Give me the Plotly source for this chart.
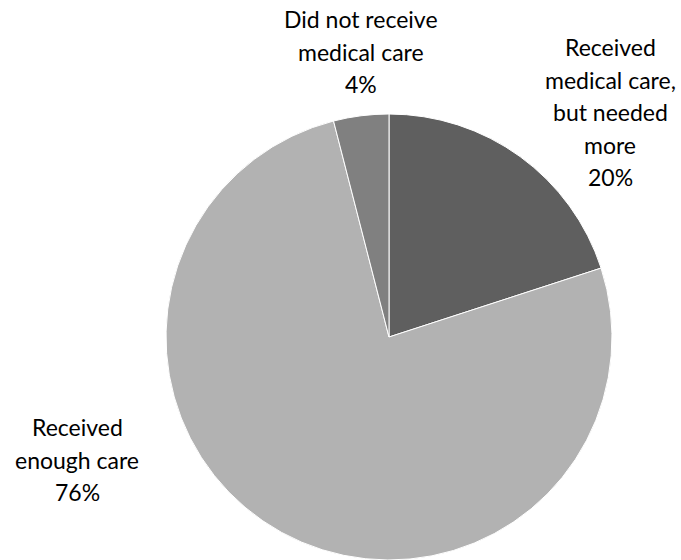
import plotly.graph_objects as go

categories = ["Received medical care, but needed more", "Received enough care", "Did not receive medical care"]
values = [20, 76, 4]
label_lines = [
    ["Received", "medical care,", "but needed", "more"],
    ["Received", "enough care"],
    ["Did not receive", "medical care"],
]
colors = ["#5f5f5f", "#b2b2b2", "#808080"]

W, H = 681, 560
cx, cy, r = 389, 337, 223

fig = go.Figure(go.Pie(
    labels=categories,
    values=values,
    sort=False,
    direction="clockwise",
    rotation=0,
    marker=dict(colors=colors, line=dict(color="white", width=1)),
    textinfo="none",
    hoverinfo="label+percent",
    domain=dict(x=[(cx - r) / W, (cx + r) / W], y=[max(0, (H - cy - r) / H), (H - cy + r) / H]),
    showlegend=False,
))

# label anchor positions (pixel centre x, first line centre y)
anchors = [(610, 47), (77, 427), (361, 19)]
line_h = 32.5
annotations = []
total = sum(values)
for i, (ax, ay) in enumerate(anchors):
    lines = label_lines[i] + [f"{round(values[i] / total * 100)}%"]
    for j, t in enumerate(lines):
        y = ay + j * line_h
        annotations.append(dict(
            x=ax / W, y=1 - y / H, xref="paper", yref="paper",
            text=t, showarrow=False, xanchor="center", yanchor="middle",
            font=dict(family="Lato, Carlito, sans-serif", size=23, color="#000000"),
        ))

fig.update_layout(
    width=W, height=H,
    margin=dict(l=0, r=0, t=0, b=0),
    paper_bgcolor="white",
    plot_bgcolor="white",
    annotations=annotations,
)

fig.write_html("out.html", config={"displayModeBar": False},
               post_script="document.body.style.margin='0';")
